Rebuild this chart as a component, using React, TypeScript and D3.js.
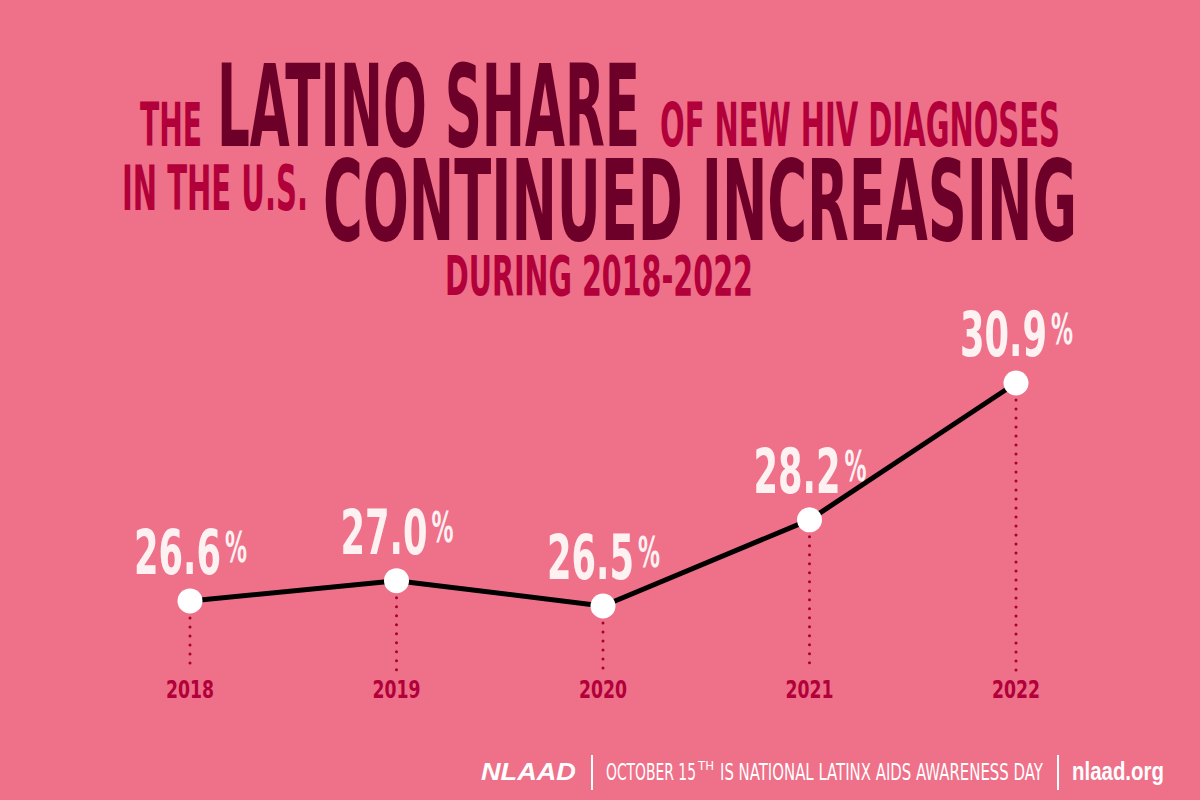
import React, { useLayoutEffect, useRef, useState } from "react";
import * as d3 from "d3";

const years: string[] = ["2018", "2019", "2020", "2021", "2022"];
const shares: number[] = [26.6, 27.0, 26.5, 28.2, 30.9];
const shareLabels: string[] = ["26.6", "27.0", "26.5", "28.2", "30.9"];

const BG = "#ef7089";
const RED = "#b1003a";
const MAROON = "#6c0028";
const WHITE = "#fdf1f2";
const NARROW = "'Liberation Sans Narrow', 'DejaVu Sans Condensed', 'Arial Narrow', sans-serif";
const SANS = "'Liberation Sans', Arial, sans-serif";

type FitProps = {
  x: number;
  y: number;
  width: number;
  fontSize: number;
  fill: string;
  anchor?: "start" | "middle" | "end";
  family?: string;
  weight?: string;
  italic?: boolean;
  children: React.ReactNode;
};

function FitText({ x, y, width, fontSize, fill, anchor = "start", family = NARROW, weight = "bold", italic = false, children }: FitProps) {
  const ref = useRef<SVGTextElement>(null);
  const [sx, setSx] = useState(1);
  useLayoutEffect(() => {
    if (ref.current) {
      const w = ref.current.getComputedTextLength();
      if (w > 0) setSx(width / w);
    }
  }, [width, fontSize, children]);
  return (
    <text
      ref={ref}
      transform={`translate(${x},${y}) scale(${sx},1)`}
      x={0}
      y={0}
      fontFamily={family}
      fontWeight={weight}
      fontStyle={italic ? "italic" : "normal"}
      fontSize={fontSize}
      textAnchor={anchor}
      fill={fill}
    >
      {children}
    </text>
  );
}

export default function App() {
  const W = 1200;
  const H = 800;
  const x = d3.scalePoint<string>().domain(years).range([190, 1016]);
  const y = d3.scaleLinear().domain([26.5, 30.9]).range([606, 383]);
  const data = years.map((yr, i) => ({ yr, v: shares[i], label: shareLabels[i] }));
  const line = d3
    .line<{ yr: string; v: number }>()
    .x((d) => x(d.yr) as number)
    .y((d) => y(d.v))
    .curve(d3.curveLinear);

  return (
    <svg
      width={W}
      height={H}
      viewBox={`0 0 ${W} ${H}`}
      style={{ position: "absolute", left: 0, top: 0, display: "block" }}
    >
      <rect x={0} y={0} width={W} height={H} fill={BG} />

      {/* Title */}
      <FitText x={140} y={146} fontSize={60} width={62} fill={RED}>THE</FitText>
      <FitText x={217} y={146} fontSize={114} width={423} fill={MAROON}>LATINO SHARE</FitText>
      <FitText x={660} y={146} fontSize={60} width={400} fill={RED}>OF NEW HIV DIAGNOSES</FitText>
      <FitText x={122} y={210} fontSize={62} width={186} fill={RED}>IN THE U.S.</FitText>
      <FitText x={323} y={240} fontSize={113} width={754} fill={MAROON}>CONTINUED INCREASING</FitText>
      <FitText x={445} y={295} fontSize={55} width={308} fill={RED}>DURING 2018-2022</FitText>

      {/* Dotted drop lines */}
      {data.map((d) => (
        <line
          key={"drop" + d.yr}
          x1={x(d.yr)}
          x2={x(d.yr)}
          y1={y(d.v) + 17}
          y2={671}
          stroke="#a8002f"
          strokeWidth={3}
          strokeLinecap="round"
          strokeDasharray="0 9"
        />
      ))}

      {/* Line */}
      <path d={line(data) || ""} fill="none" stroke="#000" strokeWidth={5} strokeLinejoin="round" />

      {/* Points */}
      {data.map((d) => (
        <circle key={"pt" + d.yr} cx={x(d.yr)} cy={y(d.v)} r={12.5} fill="#ffffff" />
      ))}

      {/* Value labels */}
      {data.map((d) => {
        const cx = x(d.yr) as number;
        const base = y(d.v) - 27;
        return (
          <g key={"lab" + d.yr}>
            <FitText x={cx - 56} y={base} fontSize={62} width={87} fill={WHITE}>{d.label}</FitText>
            <FitText x={cx + 35} y={base - 12} fontSize={42} width={22} fill={WHITE}>%</FitText>
          </g>
        );
      })}

      {/* Year labels */}
      {years.map((yr) => (
        <FitText key={"yr" + yr} x={x(yr) as number} y={698} fontSize={25} width={48} anchor="middle" fill={RED}>
          {yr}
        </FitText>
      ))}

      {/* Footer */}
      <FitText x={481} y={780} family={SANS} italic fontSize={24} width={95} fill="#ffffff">NLAAD</FitText>
      <line x1={592} x2={592} y1={755} y2={790} stroke="#ffffff" strokeWidth={2} />
      <FitText x={606} y={780} weight="normal" fontSize={23} width={90} fill="#ffffff">OCTOBER 15</FitText>
      <FitText x={698} y={770} weight="normal" fontSize={12} width={16} fill="#ffffff">TH</FitText>
      <FitText x={720} y={780} weight="normal" fontSize={23} width={323} fill="#ffffff">IS NATIONAL LATINX AIDS AWARENESS DAY</FitText>
      <line x1={1058} x2={1058} y1={755} y2={790} stroke="#ffffff" strokeWidth={2} />
      <FitText x={1072} y={780} family={SANS} fontSize={26} width={92} fill="#ffffff">nlaad.org</FitText>
    </svg>
  );
}
